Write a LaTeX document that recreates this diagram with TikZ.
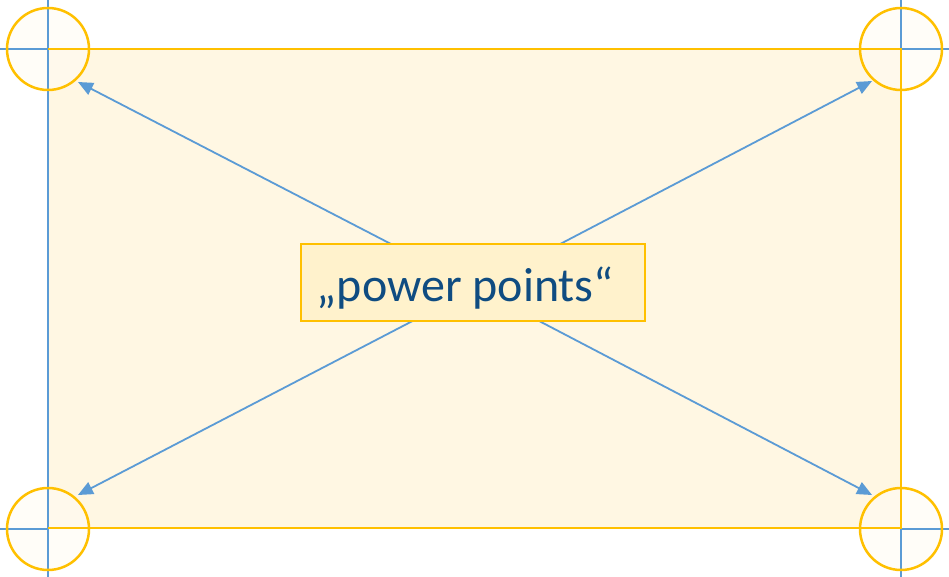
\documentclass[tikz,border=0pt]{standalone}
\usepackage{fontspec}
\setmainfont{Carlito}
\usetikzlibrary{arrows.meta}
\definecolor{guide}{HTML}{5B9BD5}
\definecolor{gold}{HTML}{FFC000}
\definecolor{cream}{HTML}{FFF7E3}
\definecolor{boxfill}{HTML}{FFF2CC}
\definecolor{dotfill}{HTML}{FFFBF3}
\definecolor{ink}{HTML}{0F4C81}
\tikzset{
  guideline/.style={draw=guide, line width=1.2pt},
  corner fill/.style={circle, fill=dotfill, fill opacity=0.6,
    minimum size=82pt, inner sep=0pt},
  corner/.style={circle, draw=gold, line width=2.5pt,
    minimum size=82pt, inner sep=0pt},
  pointer/.style={draw=guide, line width=1.8pt, -{Triangle[length=15pt,width=13pt]}},
  label box/.style={draw=gold, line width=1.3pt, fill=boxfill,
    minimum width=344pt, minimum height=77pt, inner sep=0pt},
  label text/.style={text=ink, font=\fontsize{48}{52}\selectfont},
}
\begin{document}
\begin{tikzpicture}[x=1pt,y=-1pt]
  \useasboundingbox (0,0) rectangle (949,577);
  % slide area
  \path[fill=cream] (48,49) rectangle (901,528);
  % corner marker fills
  \node[corner fill] at (48,49) {};
  \node[corner fill] at (901,49) {};
  \node[corner fill] at (48,529) {};
  \node[corner fill] at (901,529) {};
  % guide lines
  \draw[guideline] (48,0) -- (48,577);
  \draw[guideline] (901,0) -- (901,577);
  \draw[guideline] (0,49) -- (48,49);
  \draw[guideline] (901,49) -- (949,49);
  \draw[guideline] (0,529) -- (48,529);
  \draw[guideline] (901,529) -- (949,529);
  % slide outline
  \draw[gold, line width=1.3pt] (48,49) -- (901,49) -- (901,528) -- (48,528);
  % corner marker rings
  \node[corner] (tl) at (48,49) {};
  \node[corner] (tr) at (901,49) {};
  \node[corner] (bl) at (48,529) {};
  \node[corner] (br) at (901,529) {};
  % arrows from the centre towards the corners
  \coordinate (hub) at (476,288);
  \coordinate (tl tip) at (78,82);
  \coordinate (tr tip) at (872,81);
  \coordinate (bl tip) at (78,495);
  \coordinate (br tip) at (872,495);
  \draw[pointer] (hub) -- (tl tip);
  \draw[pointer] (hub) -- (tr tip);
  \draw[pointer] (hub) -- (bl tip);
  \draw[pointer] (hub) -- (br tip);
  % label
  \node[label box] (lbl) at (473,282.5) {};
  \node[label text] at (465,288) {„power points“};
\end{tikzpicture}
\end{document}
